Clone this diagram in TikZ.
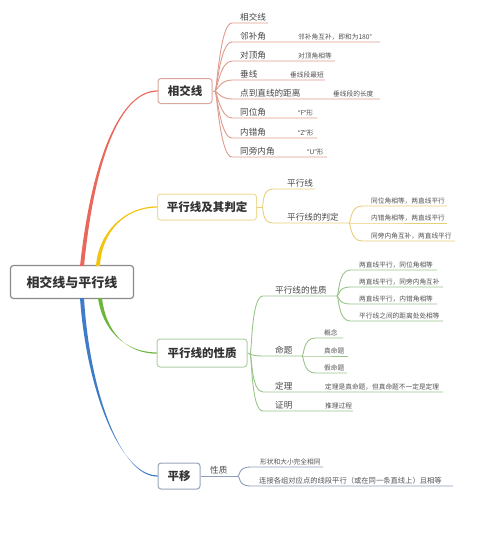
\documentclass[tikz,border=0pt]{standalone}
\usepackage{fontspec}
\setmainfont{Noto Sans CJK SC}
\newfontfamily\latinq{Noto Sans}
\usetikzlibrary{calc}

\definecolor{rootline}{HTML}{8A8A8A}
\definecolor{redmain}{HTML}{E9675B}
\definecolor{redthin}{HTML}{DE9A8C}
\definecolor{redbox}{HTML}{D9A79E}
\definecolor{yellowmain}{HTML}{F2C40F}
\definecolor{yellowthin}{HTML}{E8CF7A}
\definecolor{yellowbox}{HTML}{EEDB9A}
\definecolor{greenmain}{HTML}{6DB53F}
\definecolor{greenthin}{HTML}{98C48A}
\definecolor{greenbox}{HTML}{AFCFA5}
\definecolor{bluemain}{HTML}{3E7BC8}
\definecolor{bluethin}{HTML}{8E9DB8}
\definecolor{bluebox}{HTML}{98A5B8}

\tikzset{
  rootbox/.style={draw=rootline, line width=1.2, rounded corners=3, fill=white,
    minimum width=123, minimum height=33, inner sep=0,
    font=\fontsize{13}{15}\selectfont\bfseries, text=black!80},
  mainbox/.style={line width=1, rounded corners=3, fill=white, minimum height=26,
    inner sep=0, font=\fontsize{11.5}{13}\selectfont\bfseries, text=black!80},
  leaf/.style={anchor=base west, inner sep=0, font=\fontsize{8.6}{10}\selectfont, text=black!72},
  note/.style={anchor=base west, inner sep=0, font=\fontsize{6.7}{8}\selectfont, text=black!68},
  redline/.style={draw=redthin, line width=0.9},
  yellowline/.style={draw=yellowthin, line width=0.9},
  greenline/.style={draw=greenthin, line width=0.9},
  blueline/.style={draw=bluethin, line width=0.9},
  fan/.style={to path={.. controls +(2,0) and +(-12,0) .. (\tikztotarget)}},
}

% tapered main branch: colour, start, control 1, control 2, end
\newcommand{\taperbranch}[5]{%
  \fill[#1] ($#2+(-2,0)$) .. controls ($#3+(-1.5,0)$) and ($#4+(0,-0.6)$) .. ($#5+(0,-0.6)$)
    -- ($#5+(0,0.6)$) .. controls ($#4+(0,0.6)$) and ($#3+(1.5,0)$) .. ($#2+(2,0)$) -- cycle;}

\begin{document}
\begin{tikzpicture}[x=1pt, y=-1pt]
        \useasboundingbox (0,0) rectangle (500,554);

        % Centre and main branches.
        \node[rootbox] (root) at (72,282) {相交线与平行线};
        \node[mainbox, draw=redbox, minimum width=54, minimum height=25] (pa) at (185,91) {相交线};
        \node[mainbox, draw=yellowbox, minimum width=99] (pb) at (207,207) {平行线及其判定};
        \node[mainbox, draw=greenbox, minimum width=90, minimum height=28] (pc) at (202,353) {平行线的性质};
        \node[mainbox, draw=bluebox, minimum width=42] (pd) at (179,476) {平移};

        \taperbranch{redmain}{(82,266)}{(93,160)}{(120,91)}{(pa.west)}
        \taperbranch{yellowmain}{(98,266)}{(100,232)}{(125,207)}{(pb.west)}
        \taperbranch{greenmain}{(100,298)}{(104,330)}{(125,353)}{(pc.west)}
        \taperbranch{bluemain}{(82,298)}{(88,390)}{(120,476)}{(pd.west)}

        % 相交线
        \coordinate (ha) at (215,91);
        \draw[redline] (pa.east) -- (ha);
        \draw[redline] (ha) to[fan] (232,23) coordinate (a1) -- (268,23);
        \node[leaf] (a1t) at (240,20) {相交线};
        \draw[redline] (ha) to[fan] (232,42) coordinate (a2) -- (380,42);
        \node[leaf] (a2t) at (240,39) {邻补角};
        \node[note] (a2n) at (298,39) {邻补角互补，即和为180°};
        \draw[redline] (ha) to[fan] (232,61) coordinate (a3) -- (335,61);
        \node[leaf] (a3t) at (240,58) {对顶角};
        \node[note] (a3n) at (298,58) {对顶角相等};
        \draw[redline] (ha) to[fan] (232,80) coordinate (a4) -- (325,80);
        \node[leaf] (a4t) at (240,77) {垂线};
        \node[note] (a4n) at (290,77) {垂线段最短};
        \draw[redline] (ha) to[fan] (232,99) coordinate (a5) -- (380,99);
        \node[leaf] (a5t) at (240,96) {点到直线的距离};
        \node[note] (a5n) at (333,96) {垂线段的长度};
        \draw[redline] (ha) to[fan] (232,118) coordinate (a6) -- (317,118);
        \node[leaf] (a6t) at (240,115) {同位角};
        \node[note] (a6n) at (298,115) {{\latinq “F”}形};
        \draw[redline] (ha) to[fan] (232,138) coordinate (a7) -- (317,138);
        \node[leaf] (a7t) at (240,135) {内错角};
        \node[note] (a7n) at (298,135) {{\latinq “Z”}形};
        \draw[redline] (ha) to[fan] (232,157) coordinate (a8) -- (327,157);
        \node[leaf] (a8t) at (240,154) {同旁内角};
        \node[note] (a8n) at (307,154) {{\latinq “U”}形};

        % 平行线及其判定
        \coordinate (hb) at (262,207);
        \draw[yellowline] (pb.east) -- (hb);
        \draw[yellowline] (hb) to[fan] (273,189) coordinate (b1) -- (315,189);
        \node[leaf] (b1t) at (287,186) {平行线};
        \coordinate (hb2) at (349,223);
        \draw[yellowline] (hb) to[fan] (273,223) coordinate (b2) -- (hb2);
        \node[leaf] (b2t) at (287,220) {平行线的判定};
        \draw[yellowline] (hb2) to[fan] (362,206) coordinate (b3) -- (447,206);
        \node[note] (b3t) at (371,203) {同位角相等，两直线平行};
        \draw[yellowline] (hb2) -- (362,223) coordinate (b4) -- (447,223);
        \node[note] (b4t) at (371,220) {内错角相等，两直线平行};
        \draw[yellowline] (hb2) to[fan] (362,241) coordinate (b5) -- (455,241);
        \node[note] (b5t) at (371,238) {同旁内角互补，两直线平行};

        % 平行线的性质
        \coordinate (hc) at (250,354);
        \draw[greenline] (pc.east) -- (hc);
        \coordinate (hc1) at (337,296);
        \draw[greenline] (hc) to[fan] (263,296) coordinate (c1) -- (hc1);
        \node[leaf] (c1t) at (275,293) {平行线的性质};
        \draw[greenline] (hc1) to[fan] (350,270) coordinate (c11) -- (437,270);
        \node[note] (c11t) at (359,267) {两直线平行，同位角相等};
        \draw[greenline] (hc1) to[fan] (350,287) coordinate (c12) -- (443,287);
        \node[note] (c12t) at (359,284) {两直线平行，同旁内角互补};
        \draw[greenline] (hc1) to[fan] (350,304) coordinate (c13) -- (437,304);
        \node[note] (c13t) at (359,301) {两直线平行，内错角相等};
        \draw[greenline] (hc1) to[fan] (350,321) coordinate (c14) -- (443,321);
        \node[note] (c14t) at (359,318) {平行线之间的距离处处相等};
        \coordinate (hc2) at (302,356);
        \draw[greenline] (hc) to[fan] (263,356) coordinate (c2) -- (hc2);
        \node[leaf] (c2t) at (275,353) {命题};
        \draw[greenline] (hc2) to[fan] (315,338) coordinate (c21) -- (343,338);
        \node[note] (c21t) at (324,335) {概念};
        \draw[greenline] (hc2) -- (315,356) coordinate (c22) -- (348,356);
        \node[note] (c22t) at (324,353) {真命题};
        \draw[greenline] (hc2) to[fan] (315,373) coordinate (c23) -- (347,373);
        \node[note] (c23t) at (324,370) {假命题};
        \draw[greenline] (hc) to[fan] (263,392) coordinate (c3) -- (443,392);
        \node[leaf] (c3t) at (275,389) {定理};
        \node[note] (c3n) at (325,389) {定理是真命题，但真命题不一定是定理};
        \draw[greenline] (hc) to[fan] (263,411) coordinate (c4) -- (353,411);
        \node[leaf] (c4t) at (275,408) {证明};
        \node[note] (c4n) at (325,408) {推理过程};

        % 平移
        \coordinate (hd) at (238,476);
        \draw[blueline] (pd.east) -- (hd);
        \node[leaf] (d0t) at (210,473) {性质};
        \draw[blueline] (hd) to[fan] (250,467) coordinate (d1) -- (323,467);
        \node[note] (d1t) at (260,464) {形状和大小完全相同};
        \draw[blueline] (hd) to[fan] (250,486) coordinate (d2) -- (453,486);
        \node[note, font=\fontsize{7.3}{9}\selectfont] (d2t) at (259,483) {连接各组对应点的线段平行（或在同一条直线上）且相等};
\end{tikzpicture}
\end{document}
